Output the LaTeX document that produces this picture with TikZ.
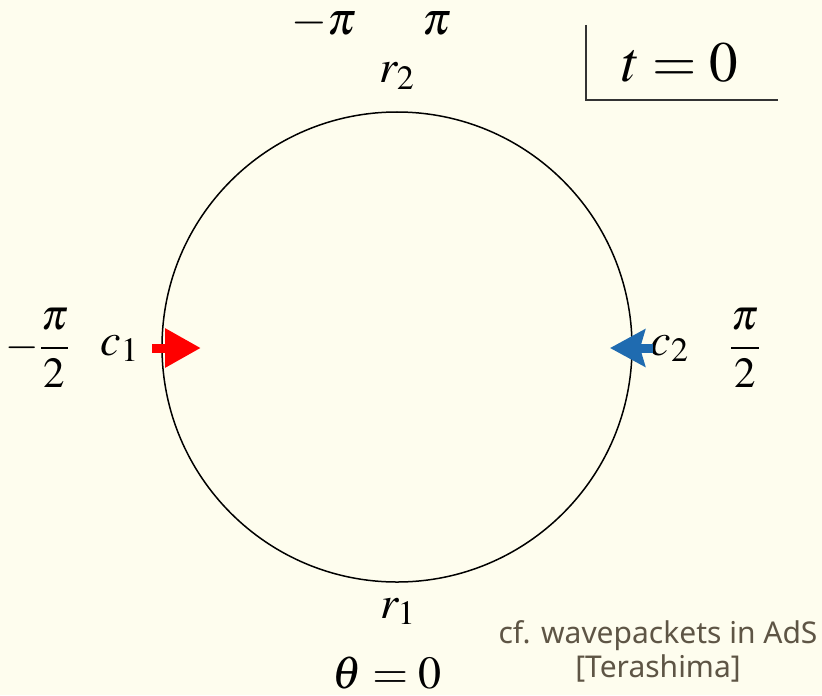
\documentclass[tikz,border=0pt]{standalone}
\usepackage{mathptmx}
\usepackage{fontspec}
\setsansfont{Noto Sans}
\usepackage{tikz}
\usetikzlibrary{arrows.meta}
\definecolor{paper}{HTML}{FEFDEE}
\definecolor{packetblue}{HTML}{1F6BB0}
\definecolor{citegray}{HTML}{5E5545}
\tikzstyle{mylabel} = [inner sep=0pt, font=\fontsize{23}{27}\selectfont]
\tikzstyle{myfrac} = [inner sep=0pt, font=\fontsize{21.5}{25}\selectfont]
\tikzstyle{mybig} = [inner sep=0pt, font=\fontsize{28.5}{34}\selectfont]
\tikzstyle{mycite} = [inner sep=0pt, text=citegray, font=\sffamily\fontsize{15}{18}\selectfont]
\tikzstyle{packet} = [line width=4.5pt]

\begin{document}
\begin{tikzpicture}[x=0.5pt,y=-0.5pt]
        \fill[paper] (0,0) rectangle (822,695);

        % Boundary circle
        \coordinate (o) at (397,347);
        \draw[line width=0.75pt] (o) circle[radius=235];

        % Labels on the circle
        \node[mylabel, anchor=base] (mpi) at (324,35) {$-\pi$};
        \node[mylabel, anchor=base] (pi) at (437,35) {$\pi$};
        \node[mylabel, anchor=base] (r_2) at (397,83) {$r_2$};
        \node[mylabel, anchor=base] (r_1) at (398,618) {$r_1$};
        \node[mylabel, anchor=base] (theta) at (387,688) {$\theta=0$};
        \node[mylabel, anchor=base] (c_1) at (120,355) {$c_1$};
        \node[mylabel, anchor=base] (c_2) at (670,355) {$c_2$};
        \node[myfrac] (mhalf) at (38,348) {$\displaystyle-\frac{\pi}{2}$};
        \node[myfrac] (phalf) at (745,348) {$\displaystyle\frac{\pi}{2}$};

        % Time stamp
        \node[mybig, anchor=base] (t_0) at (680,82) {$t=0$};
        \coordinate (box_a) at (586,25);
        \coordinate (box_b) at (778,100);
        \draw[line width=1pt, black!80] (box_a) |- (box_b);

        % Wave packets
        \coordinate (p_1) at (152,348);
        \coordinate (q_1) at (201,348);
        \coordinate (p_2) at (653,348);
        \coordinate (q_2) at (610,348);
        \draw[packet, red, -{Triangle[length=18pt, width=18.5pt]}] (p_1) -- (q_1);
        \draw[packet, packetblue, -{Stealth[length=17.5pt, width=18.5pt, inset=2.5pt]}] (p_2) -- (q_2);

        % Reference
        \node[mycite, anchor=base] (cite_1) at (658,643) {cf. wavepackets in AdS};
        \node[mycite, anchor=base] (cite_2) at (658,677) {[Terashima]};
\end{tikzpicture}
\end{document}
